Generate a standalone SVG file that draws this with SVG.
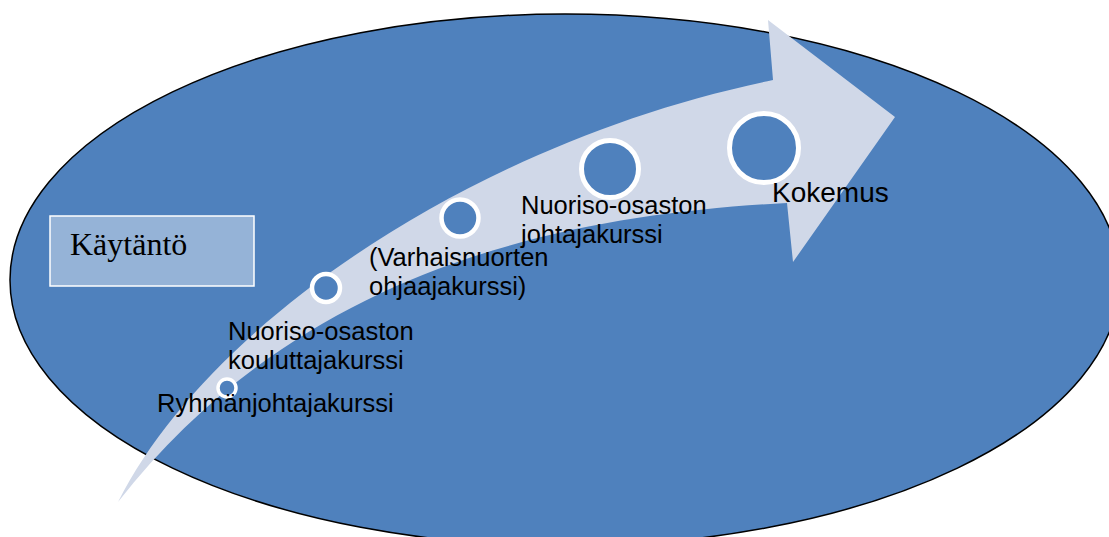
<svg xmlns="http://www.w3.org/2000/svg" width="1109" height="537" viewBox="0 0 1109 537">
<style>
.lbl{font-family:"Liberation Sans",Arial,sans-serif;font-size:25.5px;fill:#000}
.big{font-family:"Liberation Sans",Arial,sans-serif;font-size:28px;fill:#000}
.ring{fill:#4F81BD;stroke:#FFFFFF}
</style>
<rect x="0" y="0" width="1109" height="537" fill="#FFFFFF"/>
<g id="background">
<ellipse cx="565" cy="280" rx="555" ry="266" fill="#4F81BD" stroke="#000000" stroke-width="1.5"/>
</g>
<g id="kaytanto">
<rect x="50" y="216" width="204" height="70" fill="#95B3D7" stroke="#FFFFFF" stroke-width="1.5"/>
<text x="70" y="255" font-family="'Liberation Serif','Times New Roman',serif" font-size="32" fill="#000">Käytäntö</text>
</g>
<g id="connectors">
<path d="M118,502 C210,320 480,140 773,80 L768,20 L895,117 L793,262 L787,203 C560,215 300,270 118,502 Z" fill="#D0D8E8"/>
</g>
<g id="step1">
<circle class="ring" cx="227" cy="388" r="9" stroke-width="3.5"/>
<text class="lbl" x="157" y="412">Ryhmänjohtajakurssi</text>
</g>
<g id="step2">
<circle class="ring" cx="326" cy="288" r="14" stroke-width="4.5"/>
<text class="lbl" x="228" y="340">Nuoriso-osaston</text>
<text class="lbl" x="228" y="369">kouluttajakurssi</text>
</g>
<g id="step3">
<circle class="ring" cx="460" cy="218" r="18.5" stroke-width="4.5"/>
<text class="lbl" x="369" y="266">(Varhaisnuorten</text>
<text class="lbl" x="369" y="295">ohjaajakurssi)</text>
</g>
<g id="step4">
<circle class="ring" cx="610" cy="169" r="28.5" stroke-width="5"/>
<text class="lbl" x="521" y="214">Nuoriso-osaston</text>
<text class="lbl" x="521" y="243">johtajakurssi</text>
</g>
<g id="step5">
<circle class="ring" cx="764" cy="148" r="34.5" stroke-width="5"/>
<text class="big" x="772" y="202">Kokemus</text>
</g>
</svg>
